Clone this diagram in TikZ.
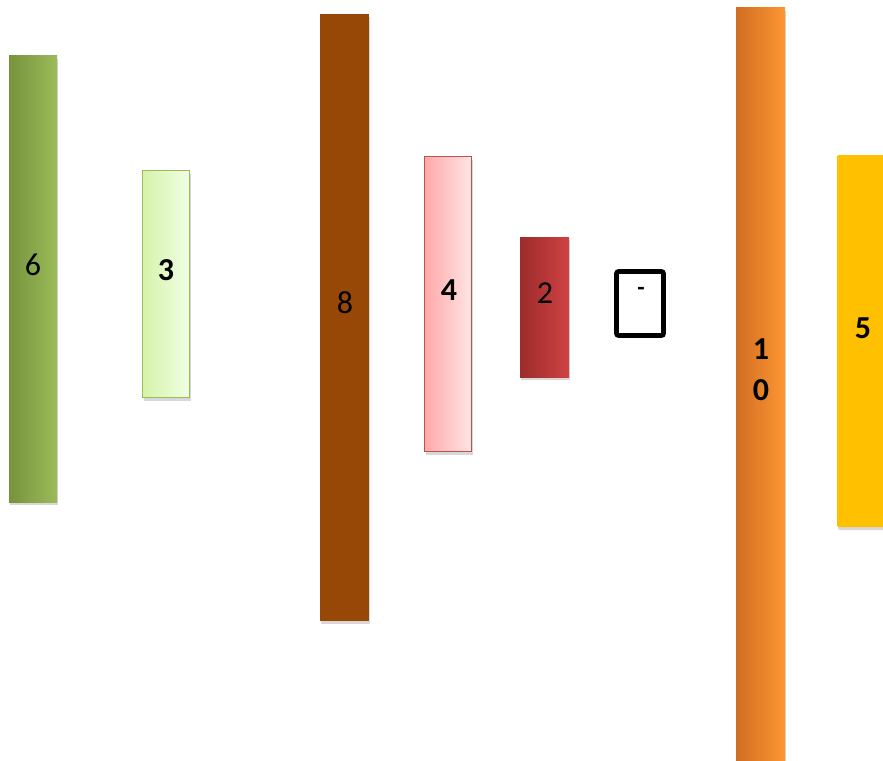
\documentclass[tikz,border=0pt]{standalone}
\usepackage{fontspec}
\setmainfont{Carlito}
\usetikzlibrary{shadows}

\definecolor{olivedark}{HTML}{76933C}
\definecolor{olivelight}{HTML}{9BBB59}
\definecolor{mintdark}{HTML}{D5F3A9}
\definecolor{mintlight}{HTML}{F0FFE4}
\definecolor{rustbrown}{HTML}{974706}
\definecolor{rosedark}{HTML}{FFA8A8}
\definecolor{roselight}{HTML}{FFE6E6}
\definecolor{roseedge}{HTML}{C0504D}
\definecolor{reddark}{HTML}{9C2B2B}
\definecolor{redlight}{HTML}{CF4242}
\definecolor{orangedark}{HTML}{CF6D22}
\definecolor{orangelight}{HTML}{FF9633}
\definecolor{goldbar}{HTML}{FFC000}

\begin{document}
\begin{tikzpicture}[x=1pt, y=-1pt,
  rod/.style={inner sep=0pt, outer sep=0pt, minimum width=48pt, anchor=north west,
    drop shadow={shadow xshift=1pt, shadow yshift=-3pt, opacity=0.3}},
  num/.style={font=\fontsize{32}{41}\selectfont, text=black, inner sep=0pt},
  numbold/.style={num, font=\fontsize{32}{41}\selectfont\bfseries}]
  \useasboundingbox[fill=white] (0,0) rectangle (883,760);
  % rods, left to right
  \node[rod, minimum height=446pt, left color=olivedark, right color=olivelight] (rod6) at (9,56) {};
  \node[rod, minimum width=47pt, minimum height=227pt, left color=mintdark, right color=mintlight, draw=olivelight, line width=1.6pt] (rod3) at (142.5,170.5) {};
  \node[rod, minimum width=49pt, minimum height=607pt, fill=rustbrown] (rod8) at (320,14) {};
  \node[rod, minimum width=47pt, minimum height=295pt, left color=rosedark, right color=roselight, draw=roseedge, line width=1.6pt] (rod4) at (424.5,156.5) {};
  \node[rod, minimum width=49pt, minimum height=140pt, left color=reddark, right color=redlight] (rod2) at (520,237) {};
  \node[inner sep=0pt, outer sep=0pt, anchor=north west, minimum width=47pt, minimum height=64pt, draw=black, line width=4.6pt, rounded corners=2pt] (box) at (616.5,271.5) {};
  \node[rod, minimum width=49pt, minimum height=770pt, left color=orangedark, right color=orangelight] (rod10) at (736,8) {};
  \node[rod, minimum height=372pt, fill=goldbar, rounded corners=2pt, drop shadow={opacity=0}] (rod5) at (837,155) {};
  % labels
  \node[num] (lab6) at (33,265) {6};
  \node[numbold] (lab3) at (166,270) {3};
  \node[num] (lab8) at (345,303) {8};
  \node[numbold] (lab4) at (449,290) {4};
  \node[num] (lab2) at (545,293) {2};
  \node[numbold, font=\fontsize{24}{30}\selectfont\bfseries] (labbox) at (641,291) {-};
  \node[numbold, align=center] (lab10) at (761,370) {1\\0};
  \node[numbold] (lab5) at (863,328) {5};
\end{tikzpicture}
\end{document}
